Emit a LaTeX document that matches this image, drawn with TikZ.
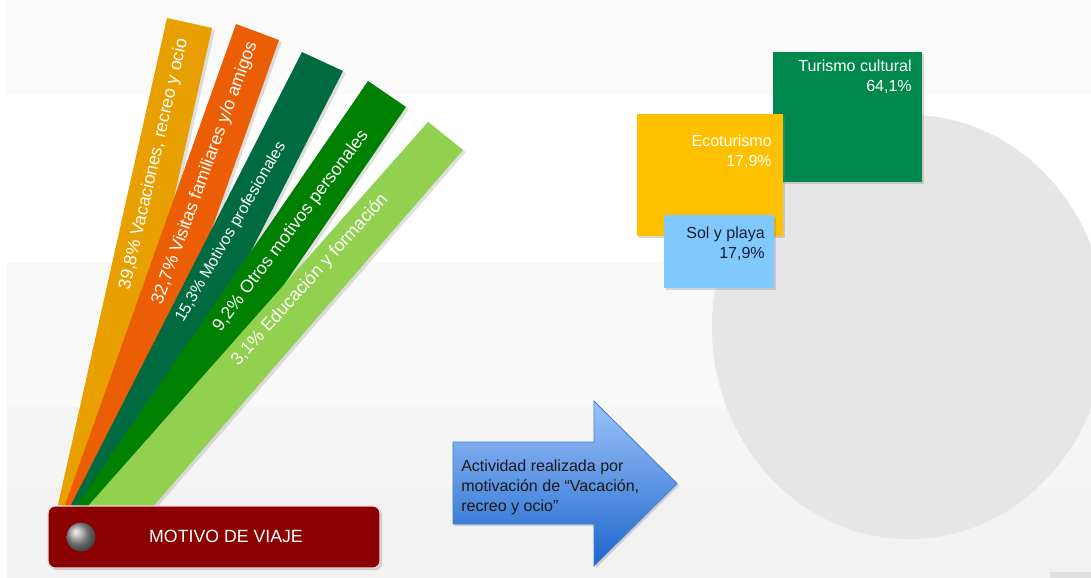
\documentclass[tikz,border=0pt]{standalone}
\usepackage{fontspec}
\setmainfont{Liberation Sans}
\usepackage{tikz}
\usetikzlibrary{shadows}

\definecolor{bar_vacaciones}{HTML}{E8A000}
\definecolor{bar_visitas}{HTML}{EB5E05}
\definecolor{bar_profesionales}{HTML}{006B41}
\definecolor{bar_otros}{HTML}{008000}
\definecolor{bar_educacion}{HTML}{92D050}
\definecolor{box_turismo}{HTML}{00884F}
\definecolor{box_eco}{HTML}{FFC000}
\definecolor{box_sol}{HTML}{80C9FF}
\definecolor{motivo_red}{HTML}{8B0000}
\definecolor{circle_gray}{HTML}{E6E6E6}
\definecolor{arrow_top}{HTML}{9DC3FA}
\definecolor{arrow_bottom}{HTML}{1D66CC}
\definecolor{arrow_border}{HTML}{3F7FD0}
\definecolor{navy_text}{HTML}{1A1A33}
\definecolor{band_a}{HTML}{FAFAFA}
\definecolor{band_b}{HTML}{F9F9F9}
\definecolor{band_c}{HTML}{F5F5F5}
\definecolor{band_d}{HTML}{F2F2F2}

\begin{document}
\begin{tikzpicture}[x=0.025cm, y=-0.025cm,
        bar_style/.style={drop shadow={shadow xshift=2pt, shadow yshift=-1.5pt, opacity=.25}},
        bar_text_style/.style={text=white, inner sep=0pt, font=\fontsize{12.6}{15}\selectfont},
        box_style/.style={drop shadow={shadow xshift=1.5pt, shadow yshift=-1.5pt, opacity=.3}},
        box_text_style/.style={anchor=north east, align=right, inner sep=0pt, font=\fontsize{11.4}{14.2}\selectfont},
        arrow_style/.style={top color=arrow_top, bottom color=arrow_bottom, draw=arrow_border, line width=.6pt,
            drop shadow={shadow xshift=1.5pt, shadow yshift=-1.5pt, opacity=.3}},
        motivo_style/.style={fill=motivo_red, draw=white!85!motivo_red, line width=.9pt, rounded corners=5pt,
            drop shadow={shadow xshift=1.5pt, shadow yshift=-1.5pt, opacity=.3}}]

        % background bands
        \useasboundingbox (0,0) rectangle (1091,578);
        \fill[white] (0,0) rectangle (1091,578);
        \fill[band_a] (7,0) rectangle (1091,95);
        \fill[band_b] (7,263) rectangle (1091,407);
        \fill[band_c] (7,407) rectangle (1091,487);
        \fill[band_d] (7,487) rectangle (1091,578);
        \fill[circle_gray] (909,327) ellipse [x radius=4.925cm, y radius=5.3cm];
        \fill[black!12] (1050,572) rectangle (1091,578);

        % fan of travel motives
        \fill[bar_vacaciones, bar_style] (167,18) -- (212,28) -- (103,515) -- (58,505) -- cycle;
        \fill[bar_visitas, bar_style] (236,24) -- (279,40) -- (108,521) -- (65,505) -- cycle;
        \fill[bar_profesionales, bar_style] (302,52) -- (343,71) -- (112,524) -- (71,505) -- cycle;
        \fill[bar_otros, bar_style] (368,81) -- (406,107) -- (115,531) -- (77,505) -- cycle;
        \fill[bar_educacion, bar_style] (428,122) -- (463,150) -- (130,533) -- (89,505) -- cycle;

        \node[bar_text_style, rotate=77] (t_vacaciones) at (154,164) {39,8\% Vacaciones, recreo y ocio};
        \node[bar_text_style, rotate=70] (t_visitas) at (205,173) {32,7\% Visitas familiares y/o amigos};
        \node[bar_text_style, rotate=60, font=\fontsize{11.4}{14}\selectfont] (t_profesionales) at (231,232) {15,3\% Motivos profesionales};
        \node[bar_text_style, rotate=53] (t_otros) at (291,231) {9,2\% Otros motivos personales};
        \node[bar_text_style, rotate=48] (t_educacion) at (310,280) {3,1\% Educación y formación};

        % motive box
        \path[motivo_style] (48,506) rectangle (380,568);
        \shade[ball color=gray!75] (81,537) circle [radius=0.36cm];
        \node[text=white, inner sep=0pt, font=\fontsize{12.6}{15}\selectfont] (l_motivo) at (226,536) {MOTIVO DE VIAJE};

        % arrow
        \path[arrow_style] (453,442) -- (594,442) -- (594,401) -- (677,483.5) -- (594,566) -- (594,524) -- (453,524) -- cycle;
        \node[anchor=north west, align=left, inner sep=0pt, text=black!90, font=\fontsize{11.4}{14.2}\selectfont] (l_actividad) at (461,460)
            {Actividad realizada por\\motivación de “Vacación,\\recreo y ocio”};

        % activity boxes
        \fill[box_turismo, box_style] (773,52) rectangle (922,182);
        \node[box_text_style, text=white] (l_turismo) at (912,59.5) {Turismo cultural\\64,1\%};
        \fill[box_eco, box_style] (637,114) rectangle (783,236);
        \node[box_text_style, text=white] (l_eco) at (772,135) {Ecoturismo\\17,9\%};
        \fill[box_sol, box_style] (664,215) rectangle (774,288);
        \node[box_text_style, text=navy_text] (l_sol) at (765,227) {Sol y playa\\17,9\%};
\end{tikzpicture}
\end{document}
